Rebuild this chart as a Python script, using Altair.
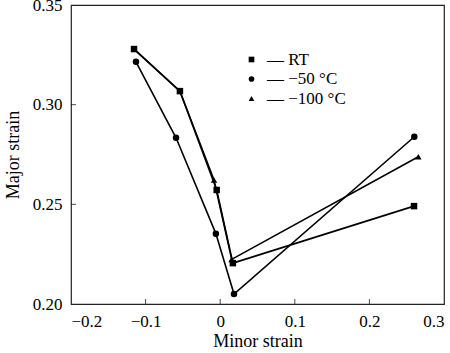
import altair as alt
import pandas as pd

series_names = ["RT", "−50 °C", "−100 °C"]
rt_x = [-0.1155, -0.054, -0.0047, 0.0170, 0.2598]
rt_y = [0.3279, 0.3068, 0.2572, 0.2205, 0.2491]
c50_x = [-0.1129, -0.0592, -0.0058, 0.0185, 0.2602]
c50_y = [0.3215, 0.2834, 0.2353, 0.2050, 0.2839]
c100_x = [-0.1155, -0.054, -0.0083, 0.0154, 0.2656]
c100_y = [0.3279, 0.3068, 0.2622, 0.2224, 0.2739]
x_ticks = [-0.2, -0.1, 0.0, 0.1, 0.2, 0.3]
y_ticks = [0.20, 0.25, 0.30, 0.35]

rows = []
for name, xs, ys, ordr in [("−100 °C", c100_x, c100_y, 0), ("−50 °C", c50_x, c50_y, 1), ("RT", rt_x, rt_y, 2)]:
    for i, (xv, yv) in enumerate(zip(xs, ys)):
        rows.append({"series": name, "x": xv, "y": yv, "i": i, "o": ordr})
df = pd.DataFrame(rows)

FONT = "Liberation Serif"
xscale = alt.Scale(domain=[-0.2, 0.3], nice=False, zero=False)
yscale = alt.Scale(domain=[0.20, 0.35], nice=False, zero=False)

xaxis = alt.Axis(values=x_ticks, tickSize=0, labelPadding=9, domain=False, grid=False,
                 labelExpr="datum.value == 0 ? '0' : replace(format(datum.value, '.1f'), '-', '−')",
                 labelFont=FONT, labelFontSize=17, labelColor="black",
                 title="Minor strain", titleFont=FONT, titleFontSize=18, titleFontWeight="normal",
                 titleColor="black", titlePadding=3)
yaxis = alt.Axis(values=y_ticks, tickSize=0, labelPadding=9, domain=False, grid=False, format=".2f",
                 labelFont=FONT, labelFontSize=17, labelColor="black",
                 title="Major strain", titleFont=FONT, titleFontSize=18, titleFontWeight="normal",
                 titleColor="black", titlePadding=10)

base = alt.Chart(df)
lines = base.mark_line(color="black", strokeWidth=1.6).encode(
    x=alt.X("x:Q", scale=xscale, axis=xaxis),
    y=alt.Y("y:Q", scale=yscale, axis=yaxis),
    detail="series:N",
    order="i:Q",
)
points = base.mark_point(filled=True, color="black", opacity=1).encode(
    x=alt.X("x:Q", scale=xscale),
    y=alt.Y("y:Q", scale=yscale),
    shape=alt.Shape("series:N",
                    scale=alt.Scale(domain=series_names, range=["square", "circle", "triangle-up"]),
                    legend=alt.Legend(title=None, orient="none", legendX=172, legendY=46,
                                      labelExpr="'— ' + datum.label", labelFont=FONT, labelFontSize=17,
                                      labelColor="black", symbolFillColor="black", symbolStrokeColor="black",
                                      symbolSize=32, rowPadding=1.5, labelOffset=7, padding=0)),
    size=alt.value(42),
    order="o:Q",
)

xt_df = pd.DataFrame({"x": x_ticks[1:-1]})
yt_df = pd.DataFrame({"y": y_ticks[1:-1]})
xticks = alt.Chart(xt_df).mark_tick(color="black", orient="vertical", size=5, thickness=1, yOffset=-2.5).encode(
    x=alt.X("x:Q", scale=xscale), y=alt.datum(0.20, scale=yscale))
yticks = alt.Chart(yt_df).mark_tick(color="black", orient="horizontal", size=5, thickness=1, xOffset=2.5).encode(
    y=alt.Y("y:Q", scale=yscale), x=alt.datum(-0.2, scale=xscale))

chart = alt.layer(lines, points, xticks, yticks).properties(
    width=373, height=299,
    autosize=alt.AutoSizeParams(type="none"),
    padding={"left": 71, "top": 5, "right": 6, "bottom": 49},
    background="white",
).configure_view(stroke="#222222", strokeWidth=1.2)

chart.save("out.html", embed_options={"renderer": "svg", "actions": False})
